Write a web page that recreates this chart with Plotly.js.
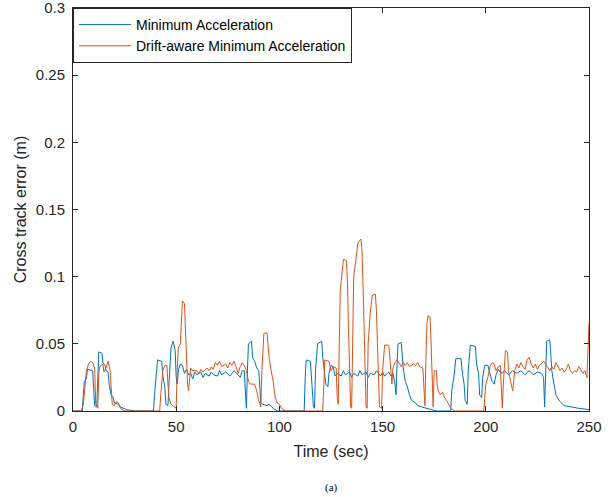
<!DOCTYPE html>
<html>
<head>
<meta charset="utf-8">
<script src="https://cdn.plot.ly/plotly-3.0.1.min.js"></script>
<style>html,body{margin:0;padding:0;background:#fff;}#chart{width:613px;height:497px;}</style>
</head>
<body>
<div id="chart"></div>
<script>
// Minimum Acceleration (blue)
var tMin = [0,4.5,5,5.5,6.5,7,9.5,10,10.5,11.5,12,12.5,14,14.5,15.5,16,17,17.5,18.5,19.5,20,22,23,26,30,39,39.5,40,40.5,41,43,43.5,44.5,45,46,46.5,47,47.5,48.5,49.5,50,50.5,51,52,53,54,55,56,57,58,59,60,62,63,64,66,67,68,70,71,72,74,76,78,80,81,82,83,83.5,84,84.5,85,86.5,87,88,89,90,90.5,91,92,94,95,97,99,112,112.5,113,115,115.5,116.5,117,117.5,118.5,120.5,121,121.5,122.5,123.5,124,125,126,127,128,130,131,132,134,135,136,138,139,140,142,143,144,146,147,149,150,151,153,154,155,156,156.5,157,157.5,159,159.5,160,161,162,163,164,166,167,169,171,174,176,183,183.5,184.5,185.5,188,188.5,189.5,190,191,191.5,192.5,195,195.5,196.5,197,198,198.5,199.5,201,202,203,204,205,206,207,208,209,211,213,215,217,219,221,223,225,227,228,228.5,229,229.5,231,231.5,232,233,234,235,236,238,241,245,250];
var vMin = [0,0,0.012,0.022,0.024,0.031,0.03,0.02,0.004,0.003,0.035,0.044,0.043,0.036,0.034,0.03,0.029,0.02,0.012,0.01,0.006,0.005,0.003,0.001,0,0,0.012,0.025,0.03,0.038,0.037,0.026,0.018,0.005,0.004,0.02,0.04,0.047,0.052,0.045,0.025,0.02,0.03,0.035,0.034,0.028,0.031,0.027,0.028,0.024,0.029,0.027,0.029,0.025,0.028,0.026,0.029,0.027,0.026,0.03,0.027,0.029,0.026,0.03,0.027,0.025,0.03,0.03,0.015,0.002,0.03,0.05,0.052,0.04,0.037,0.032,0.03,0.015,0.006,0.005,0.004,0.005,0.002,0,0,0.025,0.038,0.037,0.025,0.003,0.002,0.03,0.05,0.052,0.04,0.034,0.02,0.018,0.028,0.034,0.033,0.026,0.028,0.026,0.03,0.027,0.029,0.025,0.028,0.026,0.03,0.027,0.029,0.025,0.028,0.027,0.03,0.026,0.029,0.026,0.029,0.026,0.028,0.02,0.012,0.035,0.05,0.051,0.038,0.032,0.022,0.018,0.012,0.008,0.006,0.004,0.003,0.002,0.001,0,0,0.015,0.025,0.039,0.039,0.03,0.02,0.008,0.005,0.03,0.049,0.048,0.035,0.028,0.012,0.01,0.025,0.034,0.034,0.028,0.022,0.02,0.027,0.031,0.029,0.028,0.03,0.027,0.03,0.028,0.03,0.027,0.03,0.027,0.029,0.028,0.025,0.003,0.03,0.052,0.053,0.04,0.03,0.02,0.012,0.009,0.007,0.004,0.003,0.002,0.001];

// Drift-aware Minimum Acceleration (orange)
var tDrift = [0,4,5,5.5,6.5,7.5,8.5,9.5,10.5,11,12,12.5,13,14.5,15,16,17,18,18.5,19,20,21,22,23,25,42,42.5,43.5,44.5,45.5,46,46.5,47.5,49,50,50.5,51,52,52.5,53,54,54.5,55,55.5,56,56.5,57,58,60,61,62,63,65,66,67,68,69,70,71,72,74,75,76,77,78,79,80,81,82,83,84,85,86,88,89,90,91,91.5,92,92.5,94,94.5,95,96,97,97.5,98,99,100,101,103,121,121.5,122,124,125,126,127.5,128,128.5,129,129.5,130.5,131,132.5,133,133.5,134,134.5,135,135.5,136,137,138,139.5,140,140.5,141,141.5,142,142.5,143,144,145,146.5,147,147.5,148,148.5,149.5,150,151,153,153.5,154,154.5,155,156,157,158,159,160,161,162,163,165,166,167,168,169.5,170,170.5,171,171.5,172,173,173.5,174,174.5,175,176,176.5,177,178,179,180,181,182,183,185,199,199.5,200,201,202,203,204,205,206,207,207.5,208,208.5,209.5,210.5,211,212,213,214,215,216,217,218,219,220,221,222,223,224,225,226,228,229,230,231,232,233,234,235,236,237,238,239,240,241,242,243,244,245,246,247,248,249,249.5,250];
var vDrift = [0,0,0.005,0.015,0.03,0.035,0.037,0.036,0.032,0.005,0.002,0.028,0.033,0.035,0.029,0.032,0.037,0.03,0.02,0.005,0.004,0.007,0.006,0.002,0,0,0.012,0.03,0.034,0.034,0.02,0.01,0.005,0.003,0.002,0.03,0.047,0.05,0.075,0.082,0.08,0.06,0.035,0.02,0.015,0.025,0.032,0.03,0.03,0.028,0.031,0.029,0.032,0.03,0.033,0.031,0.036,0.034,0.037,0.033,0.035,0.032,0.036,0.034,0.037,0.033,0.028,0.033,0.036,0.034,0.03,0.022,0.02,0.02,0.015,0.008,0.003,0.03,0.05,0.058,0.058,0.045,0.04,0.03,0.022,0.015,0.01,0.006,0.005,0.002,0,0,0.02,0.038,0.037,0.03,0.033,0.032,0.01,0.005,0.05,0.09,0.105,0.113,0.112,0.095,0.06,0.02,0.003,0.002,0.06,0.1,0.112,0.125,0.128,0.12,0.095,0.06,0.02,0.003,0.002,0.05,0.073,0.086,0.087,0.075,0.05,0.02,0.003,0.002,0.03,0.049,0.049,0.04,0.025,0.02,0.032,0.036,0.038,0.035,0.033,0.036,0.034,0.036,0.033,0.035,0.034,0.036,0.033,0.032,0.01,0.004,0.04,0.065,0.071,0.07,0.05,0.02,0.003,0.03,0.03,0.018,0.015,0.012,0.014,0.01,0.008,0.005,0.002,0,0,0.01,0.02,0.025,0.033,0.036,0.035,0.03,0.033,0.034,0.015,0.002,0.02,0.045,0.044,0.03,0.022,0.015,0.03,0.035,0.032,0.036,0.033,0.031,0.038,0.04,0.035,0.032,0.035,0.031,0.034,0.037,0.035,0.032,0.03,0.033,0.031,0.036,0.033,0.03,0.032,0.029,0.031,0.035,0.03,0.028,0.03,0.029,0.033,0.031,0.028,0.03,0.025,0.045,0.065];

var seriesNames = ['Minimum Acceleration', 'Drift-aware Minimum Acceleration'];
var xTicks = [0, 50, 100, 150, 200, 250];
var yTicks = [0, 0.05, 0.1, 0.15, 0.2, 0.25, 0.3];
var yTickText = ['0', '0.05', '0.1', '0.15', '0.2', '0.25', '0.3'];

var traces = [
  {x: tMin, y: vMin, type: 'scatter', mode: 'lines', name: seriesNames[0],
   line: {color: '#0072BD', width: 1}},
  {x: tDrift, y: vDrift, type: 'scatter', mode: 'lines', name: seriesNames[1],
   line: {color: '#D95319', width: 1}}
];

var fontFam = 'Liberation Sans, Arial, sans-serif';
var axisCommon = {
  showline: true, linecolor: '#262626', linewidth: 1, mirror: 'ticks',
  ticks: 'inside', ticklen: 5, tickcolor: '#262626', tickwidth: 1,
  showgrid: false, zeroline: false, automargin: false,
  ticklabeloverflow: 'allow',
  tickfont: {family: fontFam, size: 15, color: '#262626'}
};

var layout = {
  width: 613, height: 497,
  margin: {l: 73, r: 24, t: 8, b: 86},
  paper_bgcolor: '#ffffff', plot_bgcolor: '#ffffff',
  showlegend: true,
  legend: {x: 0, y: 1, xanchor: 'left', yanchor: 'top',
    bgcolor: '#ffffff', bordercolor: '#262626', borderwidth: 1,
    font: {family: fontFam, size: 14, color: '#000'},
    tracegroupgap: 0, itemwidth: 52},
  xaxis: Object.assign({}, axisCommon, {
    range: [0, 250], tickvals: xTicks, ticktext: xTicks.map(String),
    ticklabelstandoff: 2,
    title: {text: 'Time (sec)', standoff: 11, font: {family: fontFam, size: 16, color: '#262626'}}
  }),
  yaxis: Object.assign({}, axisCommon, {
    range: [0, 0.3], tickvals: yTicks, ticktext: yTickText,
    ticklabelstandoff: 4,
    title: {text: 'Cross track error (m)', standoff: 5, font: {family: fontFam, size: 16, color: '#262626'}}
  }),
  annotations: [{
    text: '(a)', xref: 'paper', yref: 'paper', x: 0.5, y: -0.19,
    xanchor: 'center', yanchor: 'middle', showarrow: false,
    font: {family: 'Liberation Serif, Times New Roman, serif', size: 11, color: '#000'}
  }]
};

Plotly.newPlot('chart', traces, layout, {displayModeBar: false, staticPlot: true});
</script>
</body>
</html>
